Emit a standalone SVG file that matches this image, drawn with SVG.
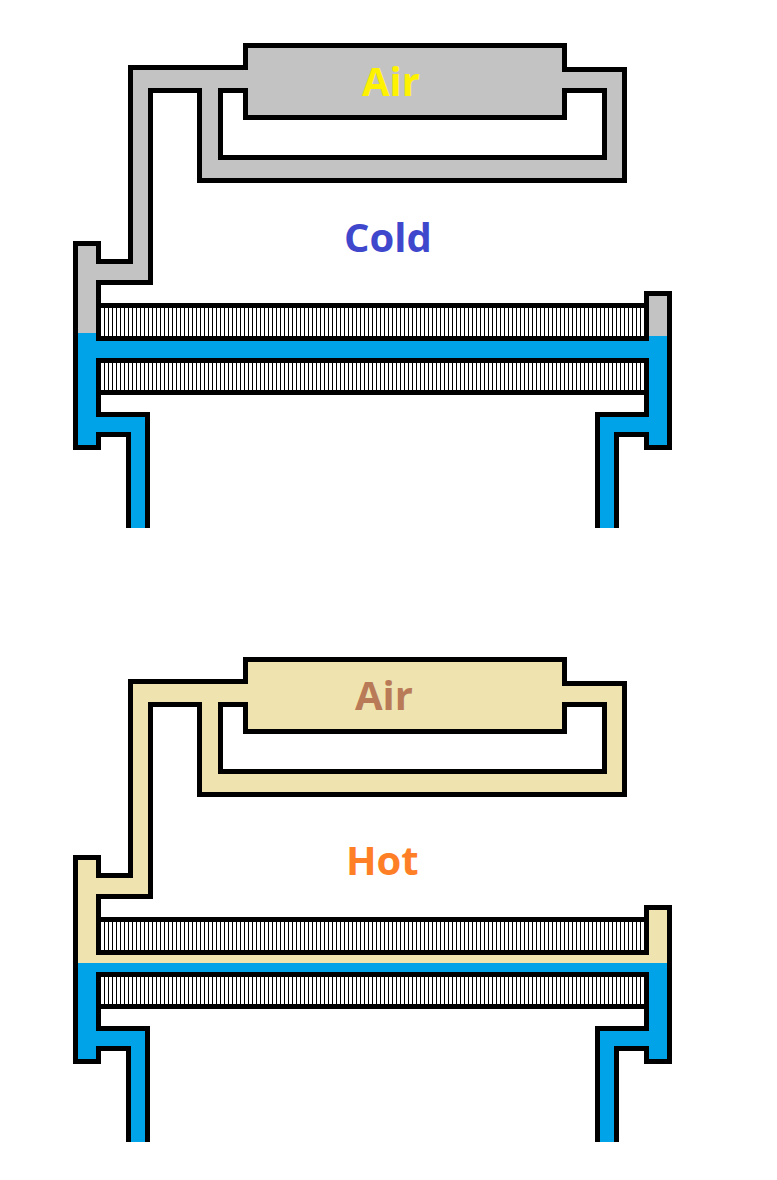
<svg xmlns="http://www.w3.org/2000/svg" width="777" height="1180" viewBox="0 0 777 1180">
<style>
.line{fill:none;stroke:#000;stroke-width:5;stroke-linejoin:miter}
.blue{fill:#00a2e8}
.tube{fill:url(#hatch);stroke:#000;stroke-width:5}
text{font-family:"Open Sans","Noto Sans",sans-serif;font-weight:700;font-size:40px}
</style>
<defs>
<pattern id="hatch" patternUnits="userSpaceOnUse" x="0" y="0" width="4" height="4">
<rect width="4" height="4" fill="#fff"/>
<rect x="0" width="1" height="4" fill="#000"/>
</pattern>
<path id="gas" fill-rule="evenodd" d="M75.5,243.5H98.5V261.5H130.5V67.5H245.5V45.5H564.5V69.5H624.5V180.5H199.5V90.5H150.5V282.5H98.5V338.5H646.5V293.5H669.5V365H75.5Z M220.5,90.5H245.5V117.5H564.5V90.5H604.5V157.5H220.5Z"/>
<path id="outline" class="line" d="M128.5,528V434.5H98.5V447.5H75.5V243.5H98.5V261.5H130.5V67.5H245.5V45.5H564.5V69.5H624.5V180.5H199.5V90.5H150.5V282.5H98.5V338.5M98.5,360.5V414.5H147.5V528M220.5,90.5H245.5V117.5H564.5V90.5H604.5V157.5H220.5ZM616.5,528V434.5H646.5V447.5H669.5V293.5H646.5V338.5M646.5,360.5V414.5H597.5V528"/>
<g id="tubes">
<rect class="tube" x="98.5" y="305.5" width="548" height="33"/>
<rect class="tube" x="98.5" y="360.5" width="548" height="32"/>
</g>
</defs>
<g id="cold">
<use href="#gas" fill="#c3c3c3"/>
<path class="blue" d="M75.5,333H98.5V338.5H646.5V336H669.5V447.5H646.5V434.5H616.5V528H597.5V414.5H646.5V360.5H98.5V414.5H147.5V528H128.5V434.5H98.5V447.5H75.5Z"/>
<use href="#tubes"/>
<use href="#outline"/>
<text x="362" y="96" fill="#fff200">Air</text>
<text x="344" y="252" fill="#3f48cc">Cold</text>
</g>
<g id="hot">
<use href="#gas" y="614" fill="#efe4b0"/>
<path class="blue" d="M75.5,963H669.5V1061.5H646.5V1048.5H616.5V1142H597.5V1028.5H646.5V974.5H98.5V1028.5H147.5V1142H128.5V1048.5H98.5V1061.5H75.5Z"/>
<use href="#tubes" y="614"/>
<use href="#outline" y="614"/>
<text x="355" y="710" fill="#b97a57">Air</text>
<text x="346" y="875" fill="#ff7f27">Hot</text>
</g>
</svg>
